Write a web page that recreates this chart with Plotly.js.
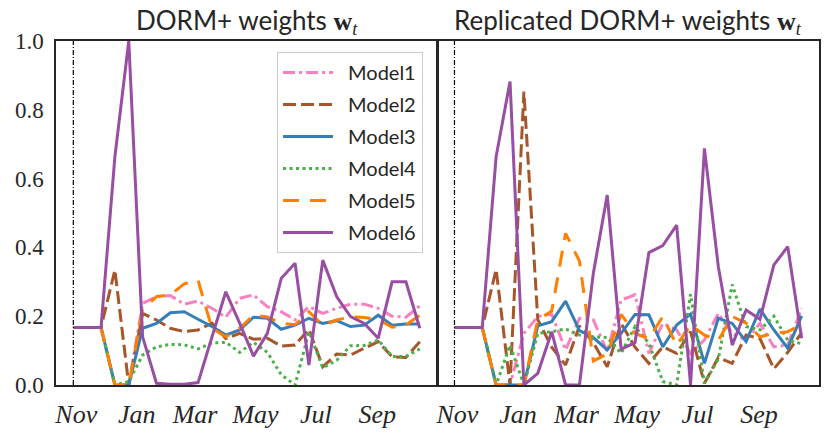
<!DOCTYPE html>
<html>
<head>
<meta charset="utf-8">
<script src="https://cdn.plot.ly/plotly-3.0.1.min.js"></script>
<style>html,body{margin:0;padding:0;background:#fff;}#chart{width:830px;height:434px;}</style>
</head>
<body>
<div id="chart"></div>
<script>
// Biweekly dates of the weight updates
const dates = ['2018-10-29','2018-11-12','2018-11-26','2018-12-10','2018-12-24','2019-01-07','2019-01-21','2019-02-04','2019-02-18','2019-03-04','2019-03-18','2019-04-01','2019-04-15','2019-04-29','2019-05-13','2019-05-27','2019-06-10','2019-06-24','2019-07-08','2019-07-22','2019-08-05','2019-08-19','2019-09-02','2019-09-16','2019-09-30','2019-10-14'];
const tickVals = ['2018-11-01','2019-01-01','2019-03-01','2019-05-01','2019-07-01','2019-09-01'];
const tickText = ['Nov','Jan','Mar','May','Jul','Sep'];
const modelNames = ['Model1','Model2','Model3','Model4','Model5','Model6'];
const panelTitles = ['DORM+ weights', 'Replicated DORM+ weights'];

// Left panel: DORM+ weights
const dormModel1 = [0.167,0.167,0.167,0.0,0.0,0.237,0.257,0.26,0.235,0.244,0.223,0.197,0.252,0.262,0.228,0.213,0.189,0.228,0.208,0.223,0.235,0.235,0.223,0.2,0.197,0.23];
const dormModel2 = [0.167,0.167,0.167,0.334,0.0,0.208,0.189,0.165,0.155,0.16,0.18,0.135,0.15,0.133,0.136,0.113,0.116,0.162,0.053,0.09,0.087,0.107,0.126,0.082,0.080,0.126];
const dormModel3 = [0.167,0.167,0.167,0.0,0.0,0.165,0.179,0.21,0.213,0.191,0.17,0.145,0.16,0.197,0.194,0.162,0.174,0.194,0.179,0.187,0.17,0.174,0.203,0.174,0.177,0.177];
const dormModel4 = [0.167,0.167,0.167,0.0,0.01,0.087,0.111,0.118,0.117,0.105,0.122,0.124,0.095,0.124,0.095,0.03,0.0,0.155,0.05,0.072,0.114,0.115,0.131,0.083,0.083,0.105];
const dormModel5 = [0.167,0.167,0.167,0.0,0.0,0.22,0.257,0.262,0.294,0.305,0.165,0.14,0.165,0.203,0.198,0.179,0.175,0.213,0.174,0.189,0.198,0.196,0.19,0.168,0.174,0.203];
const dormModel6 = [0.167,0.167,0.167,0.664,1.0,0.14,0.005,0.002,0.002,0.007,0.14,0.271,0.18,0.084,0.15,0.31,0.354,0.058,0.363,0.257,0.199,0.179,0.136,0.30,0.30,0.165];

// Right panel: Replicated DORM+ weights
const replModel1 = [0.167,0.167,0.167,0.0,0.0,0.15,0.199,0.206,0.102,0.194,0.189,0.097,0.247,0.262,0.092,0.179,0.16,0.092,0.131,0.208,0.15,0.131,0.179,0.111,0.116,0.223];
const replModel2 = [0.167,0.167,0.167,0.336,0.0,0.853,0.19,0.11,0.058,0.172,0.123,0.053,0.179,0.11,0.063,0.111,0.092,0.155,0.005,0.08,0.063,0.145,0.135,0.047,0.095,0.152];
const replModel3 = [0.167,0.167,0.167,0.0,0.0,0.0,0.172,0.184,0.244,0.158,0.138,0.102,0.15,0.205,0.204,0.111,0.174,0.206,0.063,0.194,0.179,0.126,0.221,0.16,0.107,0.201];
const replModel4 = [0.167,0.167,0.167,0.0,0.116,0.0,0.15,0.155,0.163,0.145,0.14,0.138,0.092,0.17,0.121,0.01,0.0,0.264,0.005,0.075,0.292,0.17,0.16,0.2,0.13,0.12];
const replModel5 = [0.167,0.167,0.167,0.0,0.0,0.0,0.19,0.215,0.441,0.36,0.07,0.09,0.205,0.15,0.135,0.199,0.115,0.175,0.145,0.13,0.199,0.18,0.14,0.15,0.155,0.175];
const replModel6 = [0.167,0.167,0.167,0.664,0.882,0.0,0.034,0.155,0.0,0.0,0.325,0.552,0.104,0.123,0.385,0.405,0.465,0.0,0.688,0.344,0.116,0.218,0.191,0.349,0.402,0.136];

const dormSeries = [dormModel1, dormModel2, dormModel3, dormModel4, dormModel5, dormModel6];
const replSeries = [replModel1, replModel2, replModel3, replModel4, replModel5, replModel6];

const colors = ['#f781bf','#a65628','#377eb8','#4daf4a','#ff7f00','#984ea3'];
const dashes = ['12px,4px,3px,4px','13px,5px','solid','3px,3.5px','16px,11px','solid'];

const traces = [];
[dormSeries, replSeries].forEach((series, p) => {
  series.forEach((vals, k) => {
    traces.push({
      type: 'scatter', mode: 'lines',
      x: dates, y: vals,
      xaxis: p === 0 ? 'x' : 'x2', yaxis: p === 0 ? 'y' : 'y2',
      name: '\u2002' + modelNames[k], legendgroup: modelNames[k],
      showlegend: p === 0,
      line: {color: colors[k], width: 3, dash: dashes[k]},
      hoverinfo: 'skip'
    });
  });
});

// axis range: 5% padding around the data span (matplotlib default margins)
const t0 = new Date(dates[0] + 'T00:00:00Z').getTime();
const t1 = new Date(dates[dates.length-1] + 'T00:00:00Z').getTime();
const pad = 0.05 * (t1 - t0);
const xr = [new Date(t0 - pad).toISOString(), new Date(t1 + pad).toISOString()];

const spine = '#262626';
const xaxisBase = {
  type: 'date', range: xr, tickmode: 'array', tickvals: tickVals, ticktext: tickText,
  showgrid: false, zeroline: false, showline: true, mirror: true,
  linecolor: spine, linewidth: 1.6, ticks: 'outside', ticklen: 5, tickcolor: 'rgba(0,0,0,0)',
  tickfont: {family: 'Liberation Serif', size: 26, color: '#262626', style: 'italic'}
};
const yaxisBase = {
  range: [0, 1], tickvals: [0, 0.2, 0.4, 0.6, 0.8, 1.0], tickformat: '.1f',
  showgrid: false, zeroline: false, showline: true, mirror: true,
  linecolor: spine, linewidth: 1.6, ticks: 'outside', ticklen: 6, tickcolor: 'rgba(0,0,0,0)',
  tickfont: {family: 'Liberation Serif', size: 23, color: '#262626'}
};

const titleHtml = t => t + ' <span style="font-family:\'Liberation Serif\'"><b>w</b><sub><i>t</i></sub></span>';

const layout = {
  width: 830, height: 434,
  margin: {l: 56, r: 11, t: 41, b: 49},
  paper_bgcolor: '#ffffff', plot_bgcolor: '#ffffff',
  showlegend: true,
  xaxis: Object.assign({}, xaxisBase, {domain: [0, 0.4995], anchor: 'y'}),
  xaxis2: Object.assign({}, xaxisBase, {domain: [0.4995, 1], anchor: 'y2'}),
  yaxis: Object.assign({}, yaxisBase, {anchor: 'x'}),
  yaxis2: Object.assign({}, yaxisBase, {anchor: 'x2', matches: 'y', showticklabels: false}),
  legend: {
    x: 0.2897, y: 0.968, xanchor: 'left', yanchor: 'top',
    bgcolor: 'rgba(255,255,255,0.8)', bordercolor: '#cccccc', borderwidth: 1,
    font: {family: 'Lato', size: 20, color: '#262626'},
    tracegroupgap: 3, itemwidth: 50, traceorder: 'grouped'
  },
  annotations: panelTitles.map((t, p) => ({
    text: titleHtml(t), showarrow: false,
    xref: p === 0 ? 'x domain' : 'x2 domain', yref: 'paper',
    x: 0.5, y: 1, xanchor: 'center', yanchor: 'bottom', yshift: 0,
    font: {family: 'Lato', size: 26, color: '#262626'}
  })),
  shapes: ['x', 'x2'].map(xr_ => ({
    type: 'line', xref: xr_, yref: 'paper', x0: dates[0], x1: dates[0], y0: 0, y1: 1,
    line: {color: '#000000', width: 1.2, dash: '5px,2px,1px,2px'}
  }))
};

Plotly.newPlot('chart', traces, layout, {staticPlot: true, displayModeBar: false});
</script>
</body>
</html>
